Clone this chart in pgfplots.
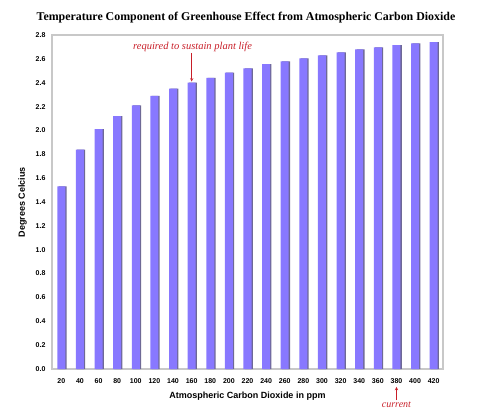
\documentclass[border=0pt]{standalone}
\usepackage{fontspec}
\setmainfont{Liberation Serif}
\setsansfont{Liberation Sans}
\usepackage{pgfplots}
\pgfplotsset{compat=1.18}
\usepackage{pgfplotstable}
\definecolor{barblue}{RGB}{136,120,255}
\definecolor{barshadow}{RGB}{110,105,150}
\definecolor{framegray}{RGB}{200,200,200}
\definecolor{annred}{RGB}{200,30,40}
\pgfplotstableread{
x ppm temp
0 20 1.53
1 40 1.84
2 60 2.01
3 80 2.12
4 100 2.21
5 120 2.29
6 140 2.35
7 160 2.40
8 180 2.44
9 200 2.485
10 220 2.52
11 240 2.555
12 260 2.578
13 280 2.603
14 300 2.629
15 320 2.654
16 340 2.68
17 360 2.697
18 380 2.716
19 400 2.73
20 420 2.74
}\datatable
\begin{document}
\begin{tikzpicture}[x=1pt,y=1pt]
\useasboundingbox (0,0) rectangle (493,410);
\node[font=\rmfamily\bfseries\fontsize{11.9}{14}\selectfont] at (246,392) {Temperature Component of Greenhouse Effect from Atmospheric Carbon Dioxide};
\begin{axis}[
  at={(52pt,41pt)}, anchor=south west,
  scale only axis, width=391pt, height=334pt,
  xmin=-0.5, xmax=20.5, ymin=0, ymax=2.8,
  axis line style={framegray, line width=1.3pt},
  xtick=data, xticklabels={20,40,60,80,100,120,140,160,180,200,220,240,260,280,300,320,340,360,380,400,420},
  ytick={0,0.2,...,2.8},
  major tick length=0pt,
  yticklabel style={xshift=-3pt, /pgf/number format/.cd, fixed, fixed zerofill, precision=1, assume math mode=true},
  ticklabel style={font=\sffamily\bfseries\fontsize{7}{8}\selectfont},
  xticklabel style={yshift=-6pt},
  xlabel={Atmospheric Carbon Dioxide in ppm},
  ylabel={Degrees Celcius},
  label style={font=\sffamily\bfseries\fontsize{9}{10}\selectfont},
  xlabel style={yshift=-2pt},
  ylabel style={yshift=2pt},
  clip=false,
]
\addplot[ybar, bar width=0.43, bar shift=0.07, fill=barshadow, draw=none] table[x=x,y=temp] {\datatable};
\addplot[ybar, bar width=0.43, bar shift=0, fill=barblue, draw=none] table[x=x,y=temp] {\datatable};
\node[font=\rmfamily\itshape\fontsize{10.5}{12}\selectfont, text=annred] at (axis cs:7.05,2.70) {required to sustain plant life};
\draw[annred, ->, >=stealth, line width=0.5pt] (axis cs:7,2.65) -- (axis cs:7,2.41);
\draw[annred, ->, >=stealth, line width=0.5pt] (axis cs:18,-0.26) -- (axis cs:18,-0.15);
\node[font=\rmfamily\itshape\fontsize{10}{12}\selectfont, text=annred] at (axis cs:18,-0.30) {current};
\end{axis}
\end{tikzpicture}
\end{document}
